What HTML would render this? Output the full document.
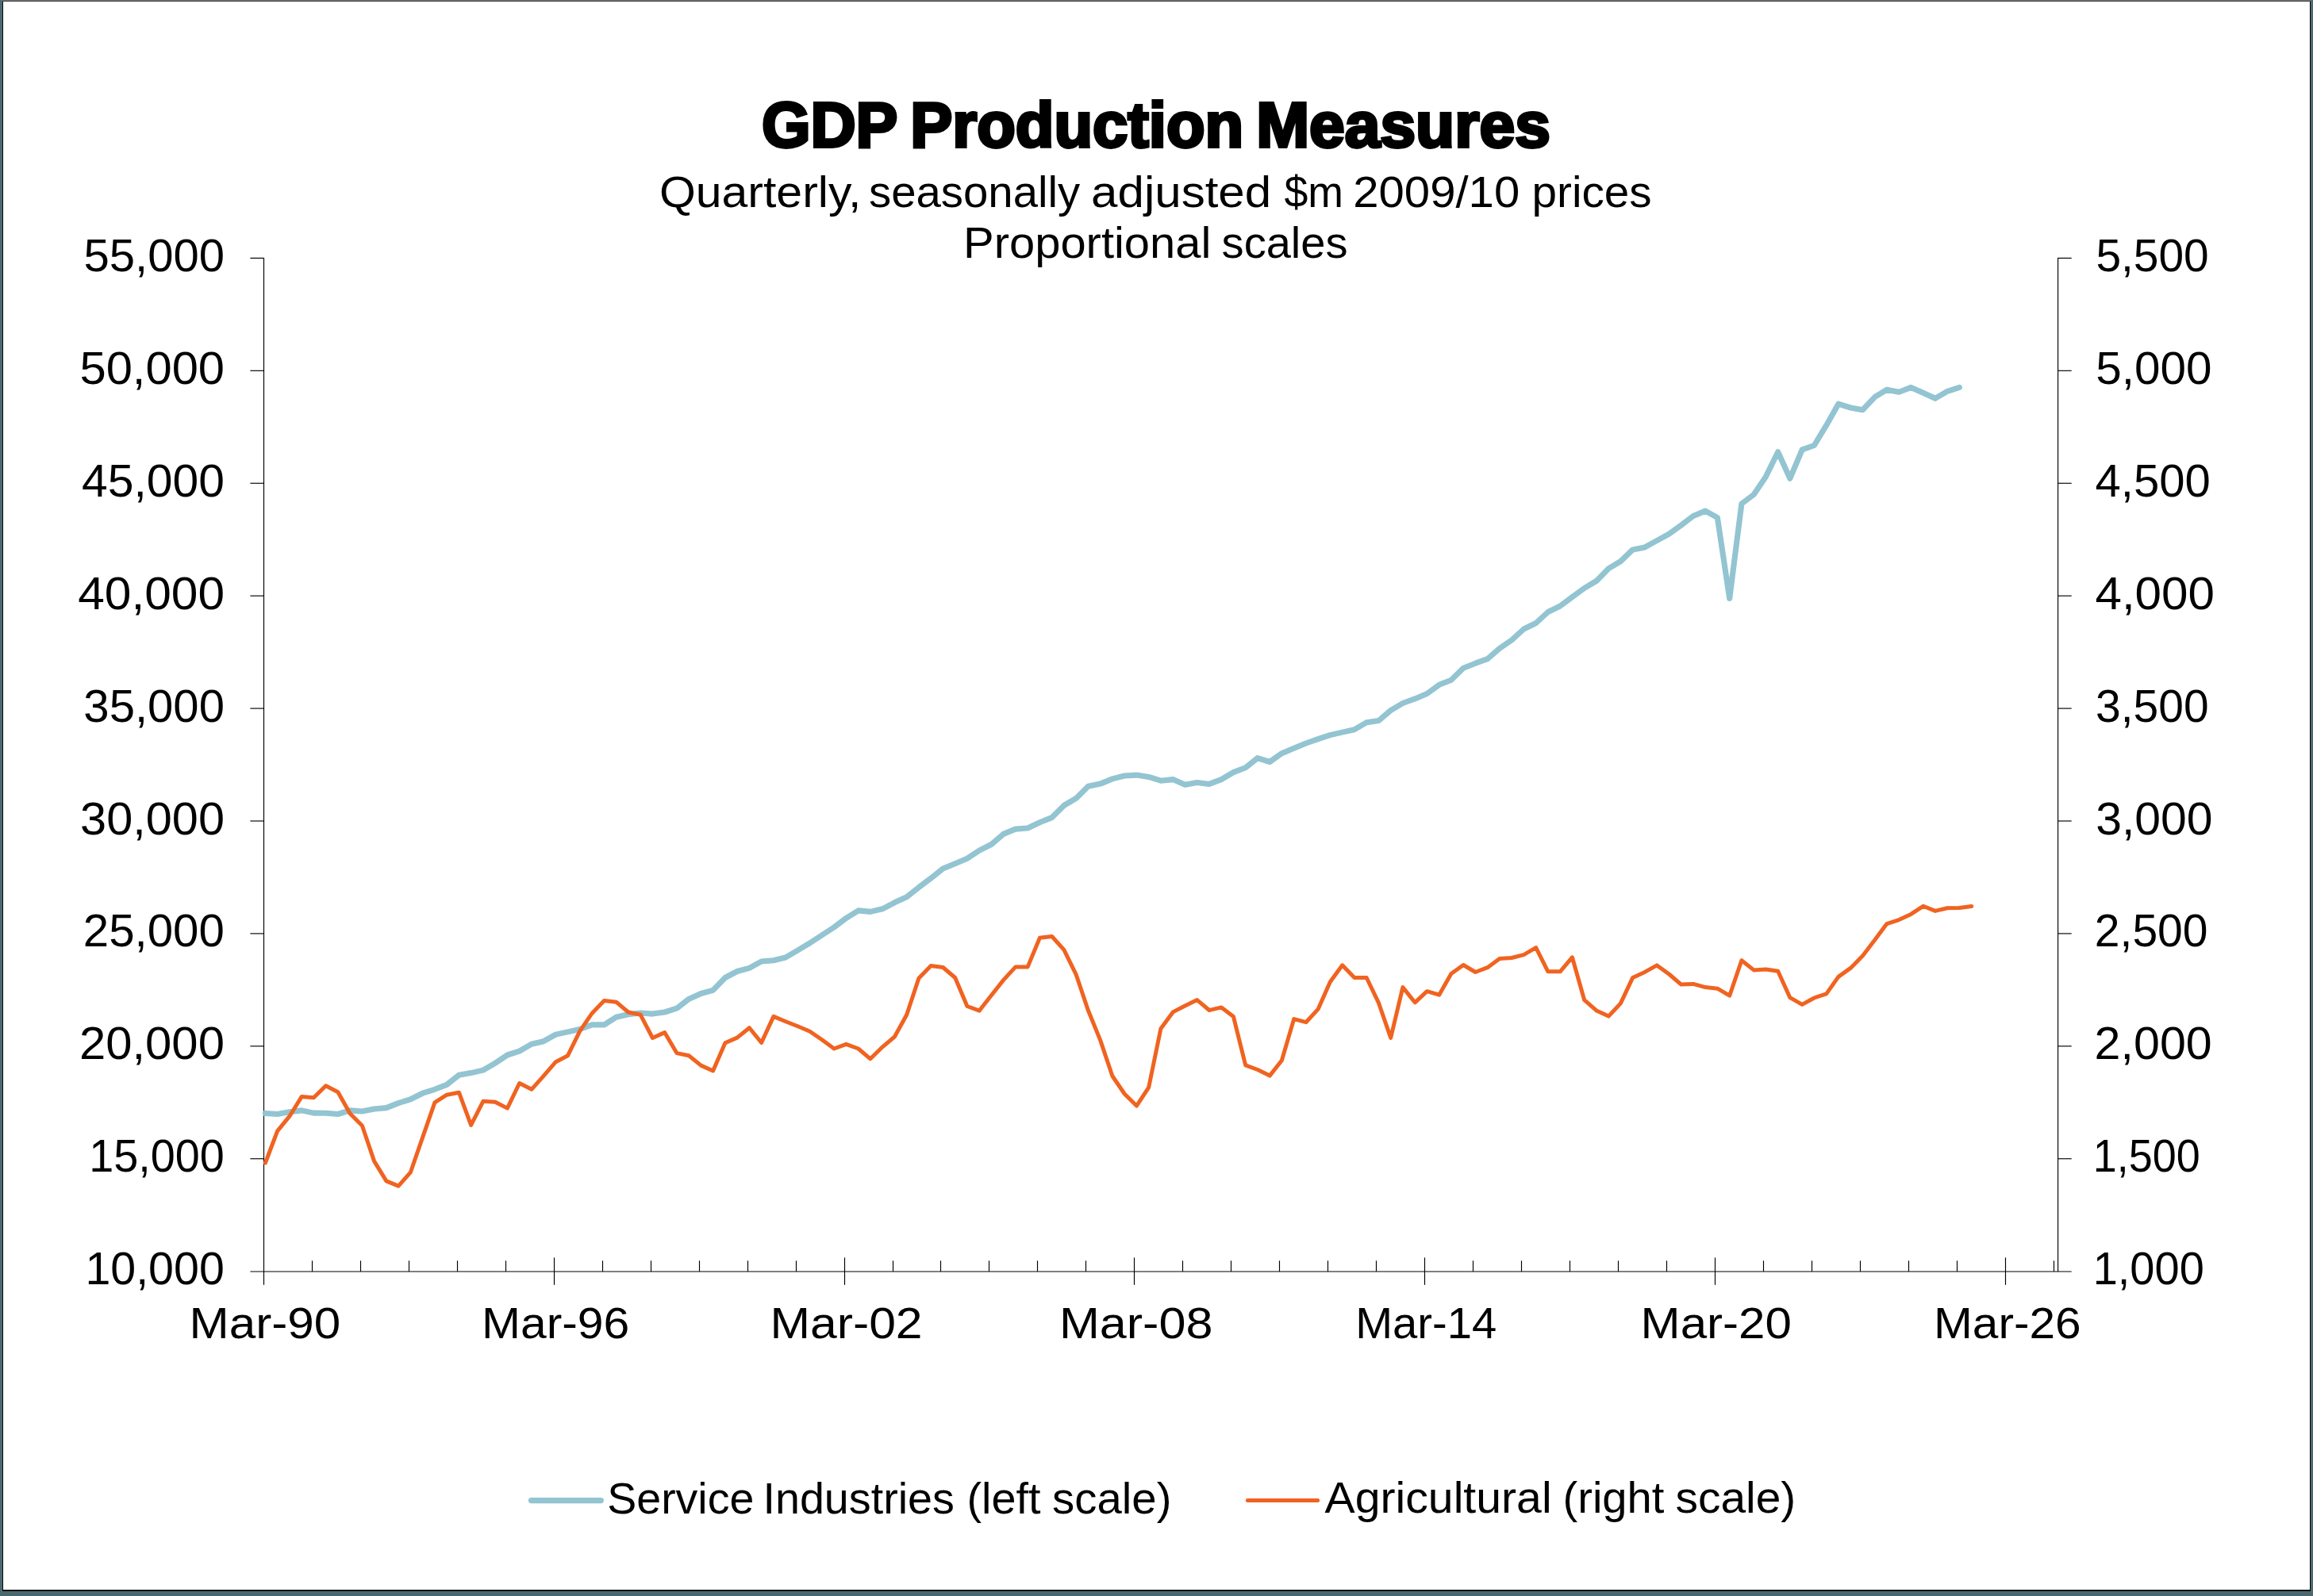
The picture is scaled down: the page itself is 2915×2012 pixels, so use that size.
<!DOCTYPE html>
<html><head><meta charset="utf-8"><title>GDP Production Measures</title>
<style>html,body{margin:0;padding:0;background:#fff;}svg{display:block;}text{font-family:"Liberation Sans",sans-serif;fill:#000;}</style></head>
<body>
<svg width="2915" height="2012" viewBox="0 0 2915 2012">
<rect x="0" y="0" width="2915" height="2012" fill="#4a6870"/>
<rect x="3" y="0" width="2909" height="2006" fill="#000"/>
<rect x="4" y="2" width="2907" height="2002.15" fill="#fff"/>
<rect x="3" y="0" width="2909" height="1" fill="#777"/>
<rect x="3" y="1" width="2909" height="1" fill="#3a3a3a"/>
<rect x="2" y="0" width="1" height="2007" fill="#527078"/>
<rect x="2912" y="0" width="1" height="2007" fill="#527078"/>
<rect x="2" y="2006" width="2911" height="1" fill="#527078"/>
<g stroke="#000" stroke-width="1.15" fill="none">
<line x1="332.50" y1="324.90" x2="332.50" y2="1619.80"/>
<line x1="2593.60" y1="324.90" x2="2593.60" y2="1602.90"/>
<line x1="315.4" y1="325.40" x2="332.50" y2="325.40"/>
<line x1="2593.60" y1="325.40" x2="2610.7" y2="325.40"/>
<line x1="315.4" y1="467.32" x2="332.50" y2="467.32"/>
<line x1="2593.60" y1="467.32" x2="2610.7" y2="467.32"/>
<line x1="315.4" y1="609.24" x2="332.50" y2="609.24"/>
<line x1="2593.60" y1="609.24" x2="2610.7" y2="609.24"/>
<line x1="315.4" y1="751.16" x2="332.50" y2="751.16"/>
<line x1="2593.60" y1="751.16" x2="2610.7" y2="751.16"/>
<line x1="315.4" y1="893.08" x2="332.50" y2="893.08"/>
<line x1="2593.60" y1="893.08" x2="2610.7" y2="893.08"/>
<line x1="315.4" y1="1035.00" x2="332.50" y2="1035.00"/>
<line x1="2593.60" y1="1035.00" x2="2610.7" y2="1035.00"/>
<line x1="315.4" y1="1176.92" x2="332.50" y2="1176.92"/>
<line x1="2593.60" y1="1176.92" x2="2610.7" y2="1176.92"/>
<line x1="315.4" y1="1318.84" x2="332.50" y2="1318.84"/>
<line x1="2593.60" y1="1318.84" x2="2610.7" y2="1318.84"/>
<line x1="315.4" y1="1460.76" x2="332.50" y2="1460.76"/>
<line x1="2593.60" y1="1460.76" x2="2610.7" y2="1460.76"/>
<line x1="393.50" y1="1589.3" x2="393.50" y2="1602.90"/>
<line x1="454.50" y1="1589.3" x2="454.50" y2="1602.90"/>
<line x1="515.50" y1="1589.3" x2="515.50" y2="1602.90"/>
<line x1="576.50" y1="1589.3" x2="576.50" y2="1602.90"/>
<line x1="637.50" y1="1589.3" x2="637.50" y2="1602.90"/>
<line x1="698.50" y1="1585.4" x2="698.50" y2="1619.8"/>
<line x1="759.50" y1="1589.3" x2="759.50" y2="1602.90"/>
<line x1="820.50" y1="1589.3" x2="820.50" y2="1602.90"/>
<line x1="881.50" y1="1589.3" x2="881.50" y2="1602.90"/>
<line x1="942.50" y1="1589.3" x2="942.50" y2="1602.90"/>
<line x1="1003.50" y1="1589.3" x2="1003.50" y2="1602.90"/>
<line x1="1064.50" y1="1585.4" x2="1064.50" y2="1619.8"/>
<line x1="1125.50" y1="1589.3" x2="1125.50" y2="1602.90"/>
<line x1="1185.50" y1="1589.3" x2="1185.50" y2="1602.90"/>
<line x1="1246.50" y1="1589.3" x2="1246.50" y2="1602.90"/>
<line x1="1307.50" y1="1589.3" x2="1307.50" y2="1602.90"/>
<line x1="1368.50" y1="1589.3" x2="1368.50" y2="1602.90"/>
<line x1="1429.50" y1="1585.4" x2="1429.50" y2="1619.8"/>
<line x1="1490.50" y1="1589.3" x2="1490.50" y2="1602.90"/>
<line x1="1551.50" y1="1589.3" x2="1551.50" y2="1602.90"/>
<line x1="1612.50" y1="1589.3" x2="1612.50" y2="1602.90"/>
<line x1="1673.50" y1="1589.3" x2="1673.50" y2="1602.90"/>
<line x1="1734.50" y1="1589.3" x2="1734.50" y2="1602.90"/>
<line x1="1795.50" y1="1585.4" x2="1795.50" y2="1619.8"/>
<line x1="1856.50" y1="1589.3" x2="1856.50" y2="1602.90"/>
<line x1="1917.50" y1="1589.3" x2="1917.50" y2="1602.90"/>
<line x1="1978.50" y1="1589.3" x2="1978.50" y2="1602.90"/>
<line x1="2039.50" y1="1589.3" x2="2039.50" y2="1602.90"/>
<line x1="2100.50" y1="1589.3" x2="2100.50" y2="1602.90"/>
<line x1="2161.50" y1="1585.4" x2="2161.50" y2="1619.8"/>
<line x1="2222.50" y1="1589.3" x2="2222.50" y2="1602.90"/>
<line x1="2283.50" y1="1589.3" x2="2283.50" y2="1602.90"/>
<line x1="2344.50" y1="1589.3" x2="2344.50" y2="1602.90"/>
<line x1="2405.50" y1="1589.3" x2="2405.50" y2="1602.90"/>
<line x1="2466.50" y1="1589.3" x2="2466.50" y2="1602.90"/>
<line x1="2527.50" y1="1585.4" x2="2527.50" y2="1619.8"/>
<line x1="2588.50" y1="1589.3" x2="2588.50" y2="1602.90"/>
</g>
<line x1="315.4" y1="1603.00" x2="2610.7" y2="1603.00" stroke="#000" stroke-width="1.1"/>
<path d="M334.4,1403.5 L349.6,1404.5 L364.9,1401.7 L380.1,1399.9 L395.4,1403.1 L410.6,1403.3 L425.9,1404.5 L441.1,1399.9 L456.4,1401.0 L471.6,1398.0 L486.9,1396.6 L502.1,1390.6 L517.4,1385.8 L532.6,1378.2 L547.9,1373.3 L563.1,1367.4 L578.4,1355.3 L593.6,1352.6 L608.9,1349.1 L624.1,1340.3 L639.4,1330.0 L654.6,1325.1 L669.9,1316.2 L685.1,1312.7 L700.4,1304.1 L715.6,1300.9 L730.9,1297.5 L746.1,1291.9 L761.4,1291.9 L776.6,1282.3 L791.9,1278.8 L807.1,1277.0 L822.4,1278.1 L837.6,1276.0 L852.9,1271.2 L868.1,1259.4 L883.4,1252.5 L898.6,1248.4 L913.9,1232.5 L929.1,1224.5 L944.4,1220.4 L959.6,1212.0 L974.9,1210.8 L990.1,1207.0 L1005.4,1198.0 L1020.6,1188.9 L1035.9,1178.9 L1051.2,1168.9 L1066.4,1157.4 L1081.7,1147.9 L1096.9,1149.4 L1112.2,1145.8 L1127.4,1137.8 L1142.7,1130.8 L1157.9,1118.7 L1173.2,1107.2 L1188.4,1095.0 L1203.7,1088.7 L1218.9,1082.2 L1234.2,1072.1 L1249.4,1064.5 L1264.7,1051.4 L1279.9,1045.1 L1295.2,1044.0 L1310.4,1036.8 L1325.7,1030.6 L1340.9,1015.4 L1356.2,1006.4 L1371.4,991.2 L1386.7,988.1 L1401.9,981.9 L1417.2,978.0 L1432.4,977.1 L1447.7,979.4 L1462.9,984.2 L1478.2,982.6 L1493.4,989.3 L1508.7,986.5 L1523.9,988.4 L1539.2,982.6 L1554.4,973.6 L1569.7,967.7 L1584.9,955.6 L1600.2,960.5 L1615.4,949.7 L1630.7,943.2 L1645.9,937.0 L1661.2,931.7 L1676.4,926.6 L1691.7,923.1 L1706.9,919.7 L1722.2,910.7 L1737.4,908.6 L1752.7,895.5 L1767.9,886.5 L1783.2,880.9 L1798.4,874.5 L1813.7,863.3 L1828.9,857.3 L1844.2,842.2 L1859.4,836.2 L1874.7,830.6 L1889.9,817.4 L1905.2,806.9 L1920.4,793.0 L1935.7,785.5 L1950.9,771.5 L1966.2,764.0 L1981.4,752.7 L1996.7,741.5 L2011.9,732.4 L2027.2,716.7 L2042.4,707.6 L2057.7,692.9 L2072.9,689.9 L2088.2,681.5 L2103.4,673.1 L2118.7,662.1 L2133.9,650.5 L2149.2,644.1 L2164.4,652.5 L2179.7,754.5 L2194.9,635.0 L2210.2,623.5 L2225.4,600.9 L2240.7,569.7 L2255.9,603.2 L2271.2,566.8 L2286.4,561.5 L2301.7,536.2 L2316.9,509.2 L2332.2,514.0 L2347.4,516.8 L2362.7,500.6 L2377.9,491.2 L2393.2,494.2 L2408.4,488.4 L2423.7,495.3 L2438.9,502.3 L2454.2,493.3 L2469.4,488.4" fill="none" stroke="#93c4d1" stroke-width="7.1" stroke-linejoin="round" stroke-linecap="round"/>
<path d="M334.4,1466.0 L349.6,1425.9 L364.9,1407.2 L380.1,1382.6 L395.4,1383.7 L410.6,1368.8 L425.9,1376.8 L441.1,1403.8 L456.4,1419.0 L471.6,1463.9 L486.9,1488.9 L502.1,1495.1 L517.4,1477.8 L532.6,1433.9 L547.9,1389.9 L563.1,1380.2 L578.4,1377.2 L593.6,1418.3 L608.9,1388.3 L624.1,1389.2 L639.4,1397.1 L654.6,1365.5 L669.9,1373.3 L685.1,1356.3 L700.4,1338.7 L715.6,1330.7 L730.9,1299.6 L746.1,1277.4 L761.4,1261.5 L776.6,1263.2 L791.9,1276.0 L807.1,1279.2 L822.4,1308.5 L837.6,1301.6 L852.9,1327.6 L868.1,1330.7 L883.4,1343.1 L898.6,1350.0 L913.9,1314.8 L929.1,1308.1 L944.4,1295.7 L959.6,1314.5 L974.9,1281.4 L990.1,1287.7 L1005.4,1293.8 L1020.6,1300.2 L1035.9,1310.8 L1051.2,1322.0 L1066.4,1316.3 L1081.7,1322.0 L1096.9,1334.8 L1112.2,1319.8 L1127.4,1307.0 L1142.7,1279.2 L1157.9,1233.2 L1173.2,1217.6 L1188.4,1219.5 L1203.7,1232.5 L1218.9,1268.5 L1234.2,1274.1 L1249.4,1254.7 L1264.7,1235.4 L1279.9,1218.9 L1295.2,1218.9 L1310.4,1182.3 L1325.7,1180.5 L1340.9,1197.4 L1356.2,1228.6 L1371.4,1273.8 L1386.7,1311.4 L1401.9,1356.5 L1417.2,1379.0 L1432.4,1394.1 L1447.7,1370.8 L1462.9,1296.8 L1478.2,1275.9 L1493.4,1268.0 L1508.7,1260.6 L1523.9,1273.5 L1539.2,1269.9 L1554.4,1281.4 L1569.7,1342.9 L1584.9,1348.5 L1600.2,1356.1 L1615.4,1336.7 L1630.7,1284.6 L1645.9,1288.7 L1661.2,1272.1 L1676.4,1237.8 L1691.7,1216.8 L1706.9,1232.5 L1722.2,1232.5 L1737.4,1264.1 L1752.7,1308.4 L1767.9,1244.6 L1783.2,1263.8 L1798.4,1249.7 L1813.7,1254.2 L1828.9,1227.5 L1844.2,1216.5 L1859.4,1225.5 L1874.7,1219.7 L1889.9,1208.6 L1905.2,1207.5 L1920.4,1203.6 L1935.7,1194.7 L1950.9,1224.8 L1966.2,1224.8 L1981.4,1206.8 L1996.7,1260.7 L2011.9,1273.9 L2027.2,1281.1 L2042.4,1264.9 L2057.7,1232.4 L2072.9,1225.4 L2088.2,1216.9 L2103.4,1228.0 L2118.7,1241.1 L2133.9,1240.4 L2149.2,1244.6 L2164.4,1246.2 L2179.7,1255.2 L2194.9,1210.7 L2210.2,1222.9 L2225.4,1222.0 L2240.7,1224.2 L2255.9,1257.7 L2271.2,1266.4 L2286.4,1258.0 L2301.7,1252.9 L2316.9,1231.4 L2332.2,1220.4 L2347.4,1204.9 L2362.7,1185.0 L2377.9,1164.6 L2393.2,1159.6 L2408.4,1152.4 L2423.7,1142.3 L2438.9,1148.4 L2454.2,1144.7 L2469.4,1144.5 L2484.7,1142.5" fill="none" stroke="#f06320" stroke-width="5.0" stroke-linejoin="round" stroke-linecap="round"/>
<line x1="669.5" y1="1891.6" x2="757.3" y2="1891.6" stroke="#93c4d1" stroke-width="7.2" stroke-linecap="round"/>
<line x1="1572.4" y1="1891.6" x2="1660.6" y2="1891.6" stroke="#f06320" stroke-width="5.0" stroke-linecap="round"/>
<g>
<text id="title1" x="959.90" y="185.30" font-size="80.00" font-weight="bold" textLength="171.53" lengthAdjust="spacingAndGlyphs" stroke="#000" stroke-width="3.80" stroke-linejoin="miter">GDP</text>
<text id="title2" x="1147.19" y="185.30" font-size="80.00" font-weight="bold" textLength="420.01" lengthAdjust="spacingAndGlyphs" stroke="#000" stroke-width="3.80" stroke-linejoin="miter">Production</text>
<text id="title3" x="1583.13" y="185.30" font-size="80.00" font-weight="bold" textLength="370.72" lengthAdjust="spacingAndGlyphs" stroke="#000" stroke-width="3.80" stroke-linejoin="miter">Measures</text>
<text id="w_s1_0" x="830.93" y="260.90" font-size="56.00" font-weight="normal" textLength="254.46" lengthAdjust="spacingAndGlyphs">Quarterly,</text>
<text id="w_s1_1" x="1095.01" y="260.90" font-size="56.00" font-weight="normal" textLength="266.22" lengthAdjust="spacingAndGlyphs">seasonally</text>
<text id="w_s1_2" x="1375.13" y="260.90" font-size="56.00" font-weight="normal" textLength="227.00" lengthAdjust="spacingAndGlyphs">adjusted</text>
<text id="w_s1_3" x="1618.49" y="260.90" font-size="56.00" font-weight="normal" textLength="74.56" lengthAdjust="spacingAndGlyphs">$m</text>
<text id="w_s1_4" x="1705.20" y="260.90" font-size="56.00" font-weight="normal" textLength="210.04" lengthAdjust="spacingAndGlyphs">2009/10</text>
<text id="w_s1_5" x="1930.52" y="260.90" font-size="56.00" font-weight="normal" textLength="151.21" lengthAdjust="spacingAndGlyphs">prices</text>
<text id="w_s2_0" x="1214.07" y="324.70" font-size="56.00" font-weight="normal" textLength="312.30" lengthAdjust="spacingAndGlyphs">Proportional</text>
<text id="w_s2_1" x="1539.62" y="324.70" font-size="56.00" font-weight="normal" textLength="158.83" lengthAdjust="spacingAndGlyphs">scales</text>
<text id="L0" x="105.44" y="341.90" font-size="57.00" font-weight="normal" textLength="177.58" lengthAdjust="spacingAndGlyphs">55,000</text>
<text id="L1" x="100.44" y="483.82" font-size="57.00" font-weight="normal" textLength="182.64" lengthAdjust="spacingAndGlyphs">50,000</text>
<text id="L2" x="102.98" y="625.74" font-size="57.00" font-weight="normal" textLength="179.96" lengthAdjust="spacingAndGlyphs">45,000</text>
<text id="L3" x="98.21" y="767.66" font-size="57.00" font-weight="normal" textLength="184.87" lengthAdjust="spacingAndGlyphs">40,000</text>
<text id="L4" x="105.36" y="909.58" font-size="57.00" font-weight="normal" textLength="177.56" lengthAdjust="spacingAndGlyphs">35,000</text>
<text id="L5" x="101.14" y="1051.50" font-size="57.00" font-weight="normal" textLength="181.88" lengthAdjust="spacingAndGlyphs">30,000</text>
<text id="L6" x="104.75" y="1193.42" font-size="57.00" font-weight="normal" textLength="178.09" lengthAdjust="spacingAndGlyphs">25,000</text>
<text id="L7" x="99.90" y="1335.34" font-size="57.00" font-weight="normal" textLength="183.04" lengthAdjust="spacingAndGlyphs">20,000</text>
<text id="L8" x="112.23" y="1477.26" font-size="57.00" font-weight="normal" textLength="170.64" lengthAdjust="spacingAndGlyphs">15,000</text>
<text id="L9" x="107.42" y="1619.18" font-size="57.00" font-weight="normal" textLength="175.38" lengthAdjust="spacingAndGlyphs">10,000</text>
<text id="R0" x="2641.39" y="341.90" font-size="57.00" font-weight="normal" textLength="142.37" lengthAdjust="spacingAndGlyphs">5,500</text>
<text id="R1" x="2641.29" y="483.82" font-size="57.00" font-weight="normal" textLength="146.29" lengthAdjust="spacingAndGlyphs">5,000</text>
<text id="R2" x="2640.51" y="625.74" font-size="57.00" font-weight="normal" textLength="145.33" lengthAdjust="spacingAndGlyphs">4,500</text>
<text id="R3" x="2640.42" y="767.66" font-size="57.00" font-weight="normal" textLength="150.60" lengthAdjust="spacingAndGlyphs">4,000</text>
<text id="R4" x="2641.10" y="909.58" font-size="57.00" font-weight="normal" textLength="142.55" lengthAdjust="spacingAndGlyphs">3,500</text>
<text id="R5" x="2641.17" y="1051.50" font-size="57.00" font-weight="normal" textLength="147.37" lengthAdjust="spacingAndGlyphs">3,000</text>
<text id="R6" x="2639.81" y="1193.42" font-size="57.00" font-weight="normal" textLength="142.79" lengthAdjust="spacingAndGlyphs">2,500</text>
<text id="R7" x="2639.60" y="1335.34" font-size="57.00" font-weight="normal" textLength="148.14" lengthAdjust="spacingAndGlyphs">2,000</text>
<text id="R8" x="2637.72" y="1477.26" font-size="57.00" font-weight="normal" textLength="134.99" lengthAdjust="spacingAndGlyphs">1,500</text>
<text id="R9" x="2637.64" y="1619.18" font-size="57.00" font-weight="normal" textLength="140.20" lengthAdjust="spacingAndGlyphs">1,000</text>
<text id="X0" x="238.59" y="1687.30" font-size="56.00" font-weight="normal" textLength="190.68" lengthAdjust="spacingAndGlyphs">Mar-90</text>
<text id="X1" x="607.05" y="1687.30" font-size="56.00" font-weight="normal" textLength="186.17" lengthAdjust="spacingAndGlyphs">Mar-96</text>
<text id="X2" x="970.53" y="1687.30" font-size="56.00" font-weight="normal" textLength="192.10" lengthAdjust="spacingAndGlyphs">Mar-02</text>
<text id="X3" x="1334.93" y="1687.30" font-size="56.00" font-weight="normal" textLength="193.48" lengthAdjust="spacingAndGlyphs">Mar-08</text>
<text id="X4" x="1708.25" y="1687.30" font-size="56.00" font-weight="normal" textLength="178.02" lengthAdjust="spacingAndGlyphs">Mar-14</text>
<text id="X5" x="2067.61" y="1687.30" font-size="56.00" font-weight="normal" textLength="190.34" lengthAdjust="spacingAndGlyphs">Mar-20</text>
<text id="X6" x="2437.04" y="1687.30" font-size="56.00" font-weight="normal" textLength="185.53" lengthAdjust="spacingAndGlyphs">Mar-26</text>
<text id="w_l1_0" x="765.28" y="1907.50" font-size="56.00" font-weight="normal" textLength="185.03" lengthAdjust="spacingAndGlyphs">Service</text>
<text id="w_l1_1" x="961.44" y="1907.50" font-size="56.00" font-weight="normal" textLength="241.46" lengthAdjust="spacingAndGlyphs">Industries</text>
<text id="w_l1_2" x="1218.44" y="1907.50" font-size="56.00" font-weight="normal" textLength="93.03" lengthAdjust="spacingAndGlyphs">(left</text>
<text id="w_l1_3" x="1326.10" y="1907.50" font-size="56.00" font-weight="normal" textLength="150.31" lengthAdjust="spacingAndGlyphs">scale)</text>
<text id="w_l2_0" x="1669.57" y="1907.40" font-size="56.00" font-weight="normal" textLength="286.03" lengthAdjust="spacingAndGlyphs">Agricultural</text>
<text id="w_l2_1" x="1969.51" y="1907.40" font-size="56.00" font-weight="normal" textLength="127.92" lengthAdjust="spacingAndGlyphs">(right</text>
<text id="w_l2_2" x="2111.55" y="1907.40" font-size="56.00" font-weight="normal" textLength="151.76" lengthAdjust="spacingAndGlyphs">scale)</text>
</g>
</svg>
</body></html>
